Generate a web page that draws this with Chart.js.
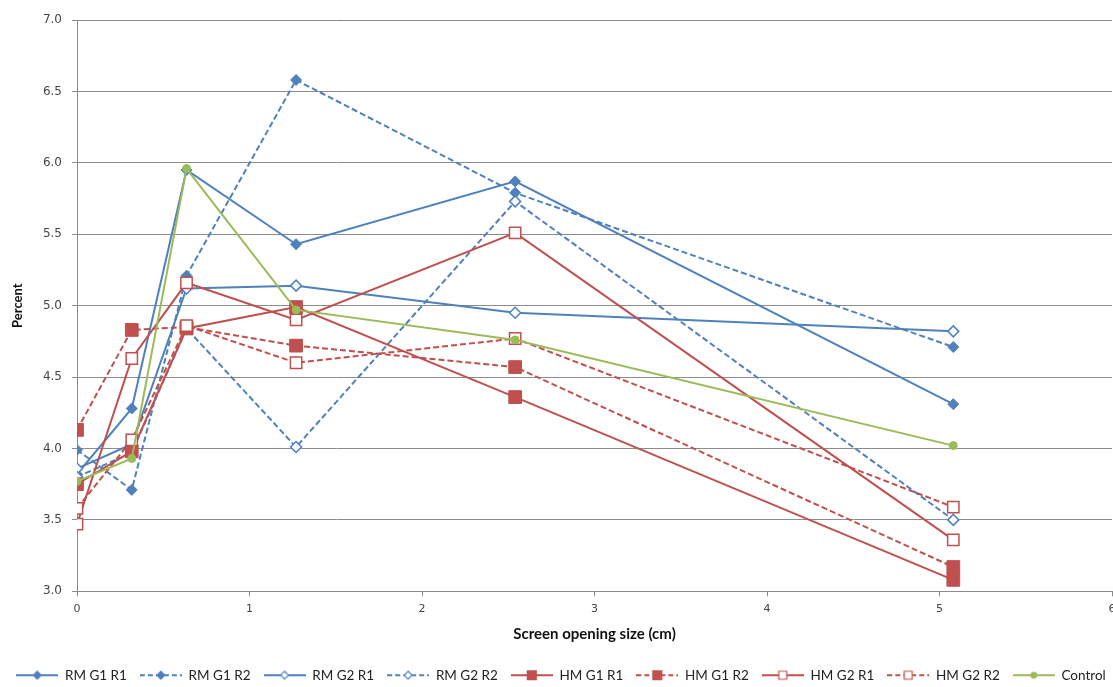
<!DOCTYPE html>
<html>
<head>
<meta charset="utf-8">
<title>Percent by screen opening size</title>
<script src="https://cdn.jsdelivr.net/npm/chart.js@4/dist/chart.umd.min.js"></script>
<style>
	html, body { margin: 0; padding: 0; background: #fff; overflow: hidden; }
	#wrap { position: relative; width: 1122px; height: 687px; }
</style>
</head>
<body>
<div id="wrap"><canvas id="chart"></canvas></div>
<script>
// screen opening sizes (cm) and percent values
var sizes = [0, 0.3175, 0.635, 1.27, 2.54, 5.08];
var seriesNames = ["RM G1 R1", "RM G1 R2", "RM G2 R1", "RM G2 R2", "HM G1 R1", "HM G1 R2", "HM G2 R1", "HM G2 R2", "Control"];
var rmG1R1 = [3.82, 4.28, 5.95, 5.43, 5.87, 4.31];
var rmG1R2 = [3.99, 3.71, 5.21, 6.58, 5.79, 4.71];
var rmG2R1 = [3.86, 4.03, 5.12, 5.14, 4.95, 4.82];
var rmG2R2 = [3.80, 3.97, 4.84, 4.01, 5.73, 3.50];
var hmG1R1 = [3.75, 3.98, 4.84, 4.99, 4.36, 3.08];
var hmG1R2 = [4.13, 4.83, 4.85, 4.72, 4.57, 3.17];
var hmG2R1 = [3.47, 4.63, 5.16, 4.90, 5.51, 3.36];
var hmG2R2 = [3.58, 4.06, 4.86, 4.60, 4.77, 3.59];
var control = [3.77, 3.93, 5.96, 4.97, 4.76, 4.02];
var xTicks = [0, 1, 2, 3, 4, 5, 6];
var yTicks = [3.0, 3.5, 4.0, 4.5, 5.0, 5.5, 6.0, 6.5, 7.0];

var seriesValues = [rmG1R1, rmG1R2, rmG2R1, rmG2R2, hmG1R1, hmG1R2, hmG2R1, hmG2R2, control];

var blue = "#4f81bd", red = "#c0504d", green = "#9bbb59";
var seriesStyle = [
	{ color: blue, dash: false, marker: "rectRot", filled: true, r: 5.5 },
	{ color: blue, dash: true, marker: "rectRot", filled: true, r: 5.5 },
	{ color: blue, dash: false, marker: "rectRot", filled: false, r: 5.5 },
	{ color: blue, dash: true, marker: "rectRot", filled: false, r: 5.5 },
	{ color: red, dash: false, marker: "rect", filled: true, r: 9 },
	{ color: red, dash: true, marker: "rect", filled: true, r: 9 },
	{ color: red, dash: false, marker: "rect", filled: false, r: 8 },
	{ color: red, dash: true, marker: "rect", filled: false, r: 8 },
	{ color: green, dash: false, marker: "circle", filled: true, r: 4 }
];

// little line + marker picture for the legend, like the Excel one
function legendSample(st) {
	var c = document.createElement("canvas");
	c.width = 42;
	c.height = 14;
	var g = c.getContext("2d");
	g.strokeStyle = st.color;
	g.lineWidth = 2;
	if (st.dash) g.setLineDash([5, 3]);
	g.beginPath();
	g.moveTo(0, 7);
	g.lineTo(42, 7);
	g.stroke();
	g.setLineDash([]);
	g.fillStyle = st.filled ? st.color : "#fff";
	g.lineWidth = 1.2;
	g.beginPath();
	if (st.marker === "rectRot") {
		g.moveTo(21, 3); g.lineTo(25, 7); g.lineTo(21, 11); g.lineTo(17, 7); g.closePath();
	} else if (st.marker === "rect") {
		var h = st.filled ? 4.5 : 4;
		g.rect(21 - h, 7 - h, 2 * h, 2 * h);
	} else {
		g.arc(21, 7, 2.8, 0, Math.PI * 2);
	}
	g.fill();
	g.stroke();
	return c;
}

var datasets = seriesNames.map(function (name, i) {
	var st = seriesStyle[i];
	return {
		label: name,
		data: sizes.map(function (x, j) { return { x: x, y: seriesValues[i][j] }; }),
		borderColor: st.color,
		backgroundColor: st.color,
		borderWidth: 2,
		borderDash: st.dash ? [6, 3] : [],
		pointStyle: st.marker,
		pointRadius: st.r,
		pointHoverRadius: st.r,
		pointBackgroundColor: st.filled ? st.color : "#fff",
		pointBorderColor: st.color,
		pointBorderWidth: st.filled ? 1 : 1.5,
		tension: 0,
		order: seriesNames.length - i
	};
});

var chart = new Chart(document.getElementById("chart"), {
	type: "line",
	data: { datasets: datasets },
	options: {
		responsive: true,
		maintainAspectRatio: false,
		animation: false,
		layout: { padding: { top: 20, left: 0, right: 0, bottom: -5 } },
		plugins: {
			tooltip: { enabled: false },
			legend: {
				position: "bottom",
				labels: {
					usePointStyle: true,
					pointStyleWidth: 42,
					boxHeight: 12,
					padding: 13,
					color: "#222",
					font: { family: "Lato", size: 13.5 },
					generateLabels: function (ch) {
						var items = Chart.defaults.plugins.legend.labels.generateLabels(ch);
						items.sort(function (a, b) { return a.datasetIndex - b.datasetIndex; });
						items.forEach(function (it) {
							it.pointStyle = legendSample(seriesStyle[it.datasetIndex]);
						});
						return items;
					}
				}
			}
		},
		scales: {
			x: {
				type: "linear",
				min: 0,
				max: 6,
				afterBuildTicks: function (s) {
					s.ticks = xTicks.map(function (v) { return { value: v }; });
				},
				grid: { drawOnChartArea: false, color: "#8c8c8c", tickLength: 5 },
				border: { color: "#8c8c8c", width: 1 },
				ticks: { color: "#444", padding: 6, font: { family: "DejaVu Sans", size: 11 } },
				title: {
					display: true,
					text: "Screen opening size (cm)",
					color: "#111",
					padding: { top: 4, bottom: 12 },
					font: { family: "Lato", size: 15, weight: "bold" }
				}
			},
			y: {
				min: 3,
				max: 7,
				afterBuildTicks: function (s) {
					s.ticks = yTicks.map(function (v) { return { value: v }; });
				},
				afterFit: function (s) { s.width = 77; },
				grid: { color: "#8c8c8c", tickLength: 5 },
				border: { color: "#8c8c8c", width: 1 },
				ticks: {
					color: "#444",
					padding: 10,
					font: { family: "DejaVu Sans", size: 12 },
					callback: function (v) { return v.toFixed(1); }
				},
				title: {
					display: true,
					text: "Percent",
					color: "#111",
					padding: { top: 10, bottom: 0 },
					font: { family: "Lato", size: 13, weight: "bold" }
				}
			}
		}
	}
});
</script>
</body>
</html>
